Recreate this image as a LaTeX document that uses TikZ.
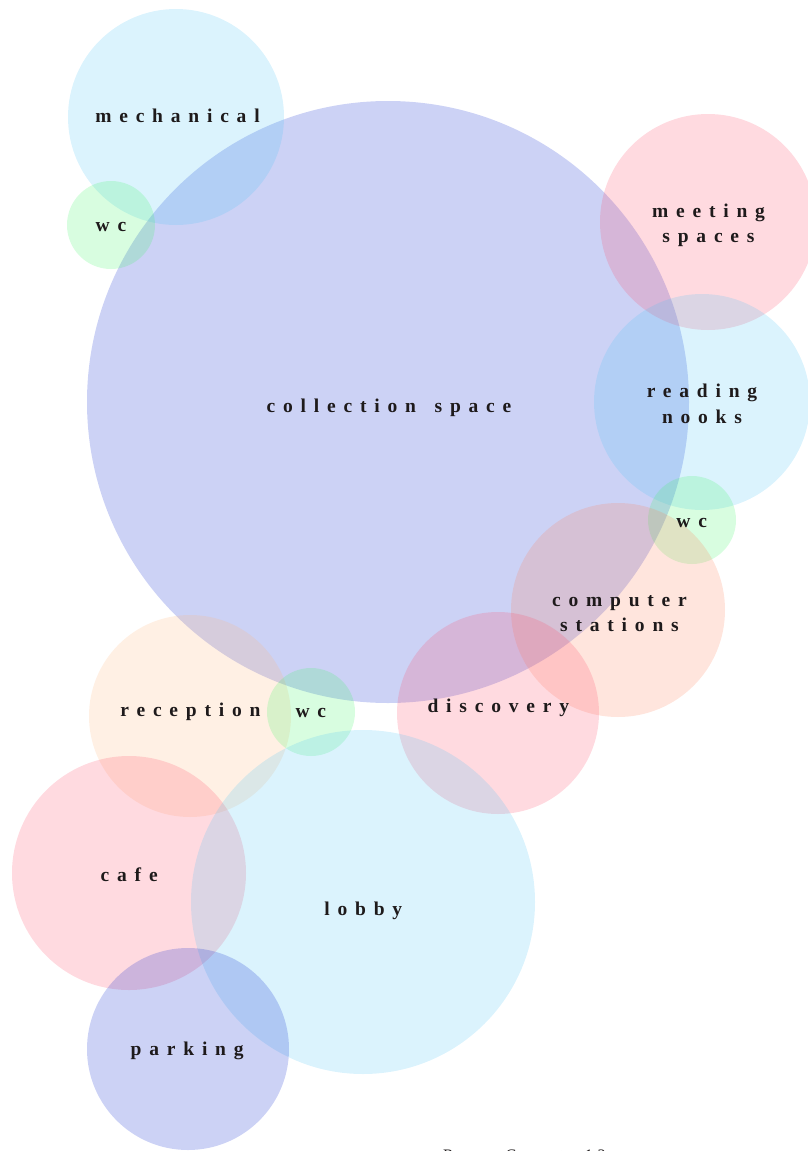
\documentclass[tikz,border=0pt]{standalone}
\usepackage{fontspec}
\setmainfont{Liberation Serif}
\newfontfamily\lblfont[LetterSpace=40]{Liberation Serif Bold}
\newfontfamily\footfont[LetterSpace=30]{Liberation Serif}
\definecolor{cLav}{RGB}{0,30,205}
\definecolor{cSky}{RGB}{75,195,245}
\definecolor{cPink}{RGB}{255,70,100}
\definecolor{cPeach}{RGB}{255,125,85}
\definecolor{cCream}{RGB}{255,180,120}
\definecolor{cGreen}{RGB}{60,245,100}
\definecolor{labtext}{RGB}{30,26,27}
\tikzset{
  bub/.style={fill=#1, fill opacity=0.2, draw=none},
  lab/.style={anchor=base, inner sep=0pt, text=labtext,
    font=\lblfont\fontsize{19.5}{23}\selectfont},
  foottext/.style={anchor=base west, inner sep=0pt, text=labtext,
    font=\footfont\fontsize{16}{20}\selectfont}
}
\begin{document}
\begin{tikzpicture}[x=1pt,y=-1pt]
\useasboundingbox (0,0) rectangle (808,1151);
% bubbles
\path[bub=cLav]   (388,402)  circle[radius=301];
\path[bub=cSky]   (176,117)  circle[radius=108];
\path[bub=cGreen] (111,225)  circle[radius=44];
\path[bub=cPink]  (708,222)  circle[radius=108];
\path[bub=cSky]   (702,402)  circle[radius=108];
\path[bub=cGreen] (692,520)  circle[radius=44];
\path[bub=cPeach] (618,610)  circle[radius=107];
\path[bub=cPink]  (498,713)  circle[radius=101];
\path[bub=cCream] (190,716)  circle[radius=101];
\path[bub=cGreen] (311,712)  circle[radius=44];
\path[bub=cPink]  (129,873)  circle[radius=117];
\path[bub=cSky]   (363,902)  circle[radius=172];
\path[bub=cLav]   (188,1049) circle[radius=101];
% labels
\node[lab] (mech)  at (177.5,122.7) {mechanical};
\node[lab] (wca)   at (111,231.7)   {wc};
\node[lab] (coll)  at (389,412)     {collection\hspace{6pt} space};
\node[lab] (meet1) at (708.5,217)   {meeting};
\node[lab] (meet2) at (708.5,242.5) {spaces};
\node[lab] (read1) at (702,397.5)   {reading};
\node[lab] (read2) at (702,423)     {nooks};
\node[lab] (wcb)   at (691.7,527.3) {wc};
\node[lab] (comp1) at (619.5,606)   {computer};
\node[lab] (comp2) at (619.5,631.7) {stations};
\node[lab] (recep) at (190.5,716.7) {reception};
\node[lab] (wcc)   at (310.8,717.7) {wc};
\node[lab] (disc)  at (498.3,712.7) {discovery};
\node[lab] (cafe)  at (129.2,881.7) {cafe};
\node[lab] (lobby) at (363.3,915)   {lobby};
\node[lab] (park)  at (187.2,1055)  {parking};
\node[foottext] (foot) at (443,1160) {Room Count: 13};
\end{tikzpicture}
\end{document}
